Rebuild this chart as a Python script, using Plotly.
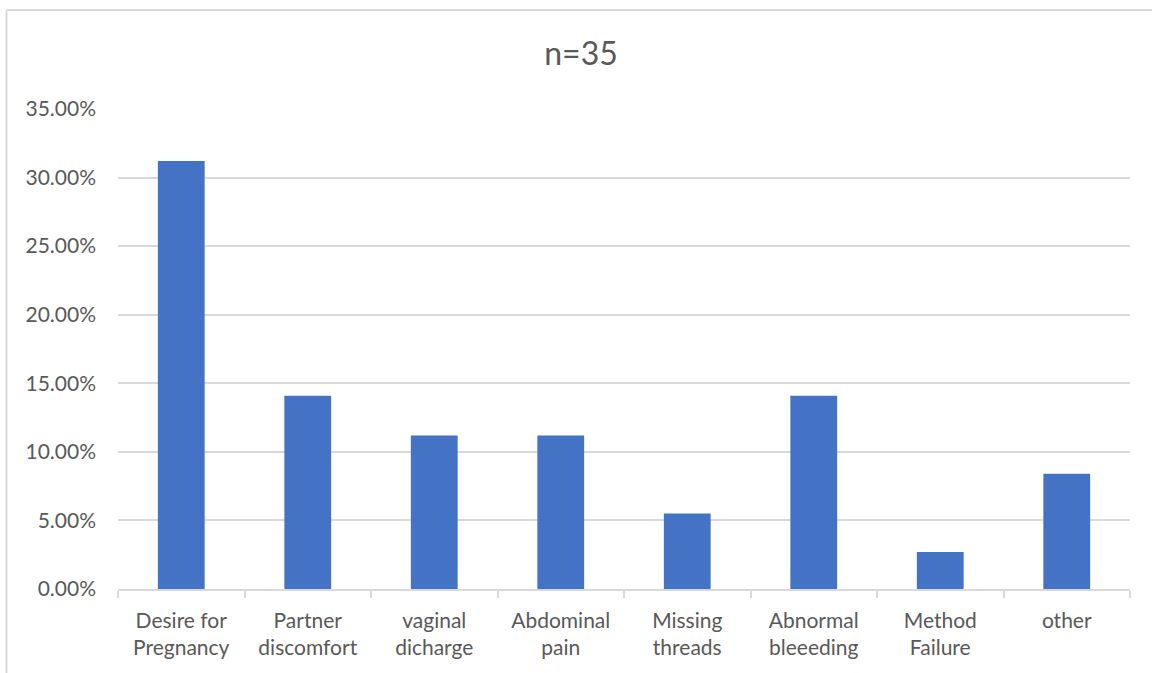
import plotly.graph_objects as go

categories = ["Desire for<br>Pregnancy", "Partner<br>discomfort", "vaginal<br>dicharge",
              "Abdominal<br>pain", "Missing<br>threads", "Abnormal<br>bleeeding",
              "Method<br>Failure", "other"]
values = [31.2, 14.1, 11.2, 11.2, 5.5, 14.1, 2.7, 8.4]
y_ticks = [0, 5, 10, 15, 20, 25, 30, 35]
y_tick_labels = ["0.00%", "5.00%", "10.00%", "15.00%", "20.00%", "25.00%", "30.00%", "35.00%"]

W, H = 1152, 673
L, R, T, B = 118, 22, 108.7, 83.7
pw, ph = W - L - R, H - T - B

font = "Lato, 'Open Sans', sans-serif"
grey = "#595959"
line = "#d9d9d9"

fig = go.Figure(go.Bar(x=categories, y=values, marker=dict(color="#4472C4", line=dict(width=0))))

bx = (6.5 - L) / pw
by = (H - B - 9.5) / ph
fig.add_shape(type="line", xref="paper", yref="paper", x0=bx, x1=bx, y0=-0.3, y1=by,
              line=dict(color=line, width=2))
fig.add_shape(type="line", xref="paper", yref="paper", x0=bx, x1=1.1, y0=by, y1=by,
              line=dict(color=line, width=2))

fig.update_layout(
    width=W, height=H,
    margin=dict(l=L, r=R, t=T, b=B, pad=0),
    plot_bgcolor="white", paper_bgcolor="white",
    bargap=0.63,
    showlegend=False,
    title=dict(text="n=35", x=581 / W, xref="container", y=1 - 54 / H, yanchor="middle", xanchor="center",
               font=dict(family=font, size=32, color=grey)),
    font=dict(family=font, size=21, color=grey),
)
fig.update_xaxes(showline=True, linecolor=line, linewidth=1.5, ticks="outside", tickson="boundaries",
                 ticklen=7, tickcolor=line, tickwidth=1.5, showgrid=False,
                 tickfont=dict(family=font, size=21, color=grey), ticklabelstandoff=12)
fig.update_yaxes(range=[0, 35], tickvals=y_ticks, ticktext=y_tick_labels, showgrid=True,
                 gridcolor=line, gridwidth=1.5, zeroline=False, showline=False, ticks="",
                 tickfont=dict(family=font, size=21, color=grey), ticklabelstandoff=21)

fig.write_html("out.html")
